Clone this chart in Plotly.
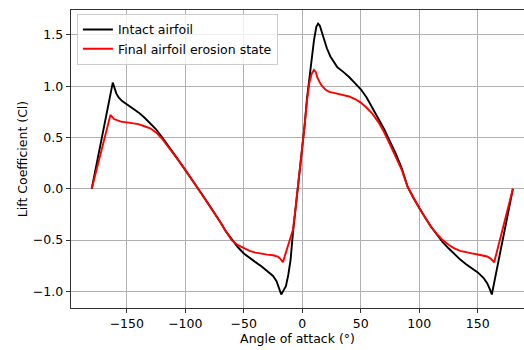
import plotly.graph_objects as go

# Intact airfoil (angle of attack in degrees, lift coefficient)
intact_aoa = [-180, -162, -159, -157, -154, -150, -145, -140, -135, -130, -125, -120, -115,
              -110, -105, -100, -95, -90, -85, -80, -75, -70, -65, -60, -55, -50, -45, -40,
              -35, -30, -25, -22, -20, -18, -16, -14, -12, -10, -8, -6, -4, -2, 0, 2, 4, 6,
              8, 10, 12, 13.5, 15, 17, 19, 21, 24, 27, 30, 35, 40, 45, 50, 55, 60, 65, 70,
              75, 80, 85, 90, 95, 100, 105, 110, 115, 120, 125, 130, 135, 140, 145, 150,
              155, 158, 160, 162, 180]
intact_cl = [0.0, 1.035, 0.93, 0.89, 0.855, 0.825, 0.785, 0.745, 0.695, 0.64, 0.58, 0.505, 0.42,
             0.345, 0.265, 0.185, 0.10, 0.02, -0.065, -0.15, -0.235, -0.325, -0.42, -0.50,
             -0.57, -0.63, -0.675, -0.715, -0.755, -0.80, -0.85, -0.90, -0.96, -1.03, -0.99,
             -0.95, -0.84, -0.69, -0.43, -0.22, -0.01, 0.19, 0.38, 0.62, 0.88, 1.09, 1.29,
             1.45, 1.58, 1.61, 1.59, 1.52, 1.44, 1.37, 1.29, 1.23, 1.185, 1.14, 1.09, 1.03,
             0.97, 0.89, 0.79, 0.69, 0.58, 0.46, 0.34, 0.20, 0.02, -0.09, -0.19, -0.28,
             -0.37, -0.45, -0.52, -0.58, -0.64, -0.69, -0.735, -0.775, -0.815, -0.87, -0.92,
             -0.97, -1.03, 0.0]

# Final airfoil erosion state
eroded_aoa = [-180, -164, -161, -158, -155, -150, -145, -140, -135, -130, -125, -120, -115,
              -110, -105, -100, -95, -90, -85, -80, -75, -70, -65, -60, -55, -50, -45, -40,
              -35, -30, -25, -21, -18.5, -16.5, -14, -12, -10, -8, -6, -4, -2, 0, 2, 4, 6,
              8, 10, 11.5, 13, 15, 17, 20, 23, 27, 30, 35, 40, 45, 50, 55, 60, 65, 70, 75,
              80, 85, 90, 95, 100, 105, 110, 115, 120, 125, 130, 135, 140, 145, 150, 155,
              158, 161, 164, 180]
eroded_cl = [0.0, 0.72, 0.68, 0.665, 0.655, 0.648, 0.64, 0.63, 0.61, 0.59, 0.55, 0.49, 0.415,
             0.345, 0.265, 0.185, 0.10, 0.02, -0.065, -0.15, -0.235, -0.325, -0.42, -0.505,
             -0.55, -0.58, -0.605, -0.622, -0.635, -0.642, -0.648, -0.66, -0.685, -0.715,
             -0.62, -0.54, -0.46, -0.40, -0.21, -0.01, 0.19, 0.38, 0.62, 0.86, 1.03, 1.12,
             1.16, 1.14, 1.08, 1.035, 1.0, 0.965, 0.945, 0.935, 0.928, 0.918, 0.90, 0.875,
             0.84, 0.79, 0.73, 0.65, 0.55, 0.43, 0.31, 0.185, 0.02, -0.09, -0.19, -0.28,
             -0.37, -0.44, -0.50, -0.545, -0.58, -0.605, -0.62, -0.63, -0.64, -0.65, -0.66,
             -0.68, -0.717, 0.0]

x_ticks = [-150, -100, -50, 0, 50, 100, 150]
y_ticks = [-1.0, -0.5, 0.0, 0.5, 1.0, 1.5]

FONT = "DejaVu Sans"
FS = 12.5

fig = go.Figure()
fig.add_trace(go.Scatter(x=intact_aoa, y=intact_cl, mode="lines", name="Intact airfoil",
                         line=dict(color="black", width=1.9)))
fig.add_trace(go.Scatter(x=eroded_aoa, y=eroded_cl, mode="lines",
                         name="Final airfoil erosion state",
                         line=dict(color="#ff0000", width=1.9)))

axis_common = dict(
    showline=True, linecolor="#333333", linewidth=1,
    ticks="outside", ticklen=4.4, tickwidth=1, tickcolor="#333333",
    showgrid=True, gridcolor="#b0b0b0", gridwidth=1, zeroline=False,
    tickfont=dict(family=FONT, size=FS, color="black"),
)

fig.update_layout(
    width=524, height=350,
    margin=dict(l=71, r=0, t=10, b=42),
    paper_bgcolor="white", plot_bgcolor="white",
    font=dict(family=FONT, size=FS, color="black"),
    xaxis=dict(range=[-197.7, 189.5], tickvals=x_ticks, mirror=True,
               title=dict(text="Angle of attack (°)", font=dict(family=FONT, size=FS),
                          standoff=3),
               **axis_common),
    yaxis=dict(range=[-1.162, 1.743], tickvals=y_ticks, tickformat=".1f",
               title=dict(text="Lift Coefficient (Cl)", font=dict(family=FONT, size=FS),
                          standoff=2),
               **axis_common),
    legend=dict(x=0.013, y=0.987, xanchor="left", yanchor="top",
                bgcolor="rgba(255,255,255,0.8)", bordercolor="#cccccc", borderwidth=1,
                font=dict(family=FONT, size=FS), tracegroupgap=0),
    showlegend=True,
)

fig.write_html("out.html")
